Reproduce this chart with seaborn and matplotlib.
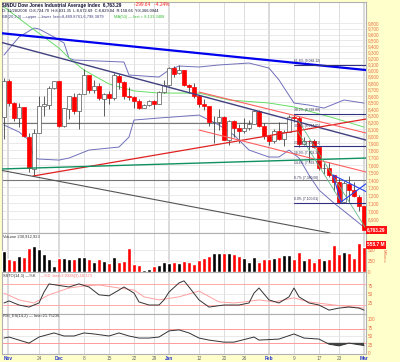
import matplotlib
matplotlib.use("Agg")
import matplotlib.pyplot as plt
import matplotlib.ticker as mticker
import numpy as np
import pandas as pd
import seaborn as sns

# ---------------- data ----------------
dates = ["11/13", "11/14", "11/17", "11/18", "11/19", "11/20", "11/21", "11/24", "11/25", "11/26", "11/28",
         "12/1", "12/2", "12/3", "12/4", "12/5", "12/8", "12/9", "12/10", "12/11", "12/12",
         "12/15", "12/16", "12/17", "12/18", "12/19", "12/22", "12/23", "12/24", "12/26",
         "12/29", "12/30", "12/31",
         "1/2", "1/5", "1/6", "1/7", "1/8", "1/9", "1/12", "1/13", "1/14", "1/15", "1/16",
         "1/20", "1/21", "1/22", "1/23", "1/26", "1/27", "1/28", "1/29", "1/30",
         "2/2", "2/3", "2/4", "2/5", "2/6", "2/9", "2/10", "2/11", "2/12", "2/13",
         "2/17", "2/18", "2/19", "2/20", "2/23", "2/24", "2/25", "2/26", "2/27", "3/2"]
opens = [8282, 8830, 8497, 8273, 8424, 7995, 7550, 8046, 8443, 8465, 8725,
         8828, 8149, 8400, 8590, 8376, 8635, 8930, 8690, 8760, 8560,
         8628, 8564, 8920, 8824, 8604, 8579, 8520, 8419, 8468,
         8515, 8483, 8668,
         8772, 9034, 8955, 9015, 8769, 8742, 8599, 8474, 8448, 8200, 8212,
         8279, 7949, 8224, 8120, 8077, 8116, 8175, 8375, 8149,
         8001, 7936, 8078, 7954, 8063, 8280, 8270, 7889, 7935, 7933,
         7850, 7553, 7556, 7465, 7366, 7115, 7350, 7270, 7180, 7056]
highs = [8876, 8870, 8500, 8490, 8430, 8040, 8100, 8600, 8600, 8750, 8830,
         8830, 8420, 8600, 8640, 8650, 9026, 8935, 8850, 8800, 8650,
         8680, 8960, 8950, 8830, 8740, 8600, 8550, 8480, 8530,
         8530, 8670, 8850,
         9065, 9080, 9088, 9015, 8790, 8800, 8620, 8560, 8450, 8290, 8400,
         8290, 8240, 8230, 8180, 8260, 8230, 8390, 8380, 8190,
         8020, 8100, 8200, 8090, 8310, 8315, 8290, 7990, 7940, 7960,
         7850, 7620, 7640, 7470, 7420, 7380, 7450, 7370, 7200, 7060]
lows = [7965, 8450, 8215, 8137, 7990, 7508, 7450, 8046, 8300, 8400, 8700,
        8140, 8140, 8250, 8320, 8100, 8635, 8650, 8650, 8530, 8300,
        8480, 8540, 8700, 8550, 8530, 8420, 8400, 8410, 8440,
        8400, 8470, 8650,
        8760, 8900, 8940, 8750, 8650, 8570, 8430, 8380, 8150, 7910, 8090,
        7940, 7880, 7990, 7910, 8050, 8090, 8175, 8130, 7960,
        7880, 7910, 7940, 7860, 8060, 8200, 7850, 7870, 7640, 7840,
        7530, 7480, 7440, 7250, 7100, 7110, 7100, 7170, 7000, 6763]
closes = [8835, 8497, 8273, 8424, 7997, 7552, 8046, 8443, 8479, 8726, 8829,
          8149, 8419, 8591, 8376, 8635, 8934, 8691, 8761, 8565, 8629,
          8564, 8924, 8824, 8604, 8579, 8519, 8419, 8468, 8515,
          8483, 8668, 8776,
          9034, 8952, 9015, 8769, 8742, 8599, 8474, 8448, 8200, 8212, 8281,
          7949, 8228, 8123, 8077, 8116, 8175, 8375, 8149, 8001,
          7936, 8078, 7957, 8063, 8280, 8270, 7889, 7939, 7933, 7850,
          7553, 7556, 7466, 7366, 7115, 7351, 7271, 7183, 7063, 6763]
close_before_first = 8282
volumes = [470, 295, 265, 356, 340, 529, 583, 506, 393, 279, 143,
           318, 302, 279, 279, 340, 340, 279, 220, 295, 256,
           204, 333, 227, 256, 545, 188, 159, 45, 68,
           143, 159, 220,
           204, 220, 204, 250, 220, 182, 265, 302, 356, 431, 431,
           416, 416, 400, 356, 311, 234, 340, 220, 295,
           279, 302, 333, 379, 379, 279, 447, 257, 318, 227,
           318, 257, 295, 597, 393, 454, 431, 318, 658, 559]

# Bollinger bands / MA(50) (day index, value)
bb_up_day = [0, 3, 6, 7, 10, 12, 13, 14, 19, 24, 25, 28, 31, 33, 35, 39, 43, 49, 53, 55, 58, 61, 64, 68, 72]
bb_up_val = [9254, 9557, 9712, 9695, 9557, 9455, 9204, 9171, 9155, 9138, 8928, 8912, 8896, 9008, 9073,
             9057, 9090, 9122, 9040, 8849, 8491, 8460, 8415, 8537, 8490]
bb_lo_day = [0, 3, 5, 6, 7, 11, 13, 17, 23, 25, 26, 31, 39, 43, 46, 49, 53, 55, 57, 59, 61, 63, 66, 69, 72]
bb_lo_val = [8163, 8062, 7946, 7694, 7680, 7666, 7694, 7805, 7847, 7989, 8236, 8266, 8310, 8163, 8017,
             7805, 7708, 7708, 7805, 7694, 7463, 7265, 7097, 6947, 6798]
ma_day = [0, 5, 11, 13, 16, 21, 26, 31, 39, 45, 53, 58, 66, 72]
ma_val = [10085, 9748, 9370, 9204, 9008, 8786, 8677, 8644, 8644, 8537, 8491, 8431, 8266, 8133]

# Slow stochastic and RSI
k_day = [0, 1, 3, 5, 7, 8, 9, 13, 15, 17, 19, 21, 23, 24, 26, 27, 29, 31, 32, 33, 35, 36, 37, 39, 41,
         44, 47, 49, 50, 51, 53, 55, 57, 58, 59, 61, 63, 65, 67, 69, 71, 72]
k_val = [25, 31, 19, 13, 25, 57, 81, 72, 81, 72, 49, 46, 63, 72, 54, 28, 19, 19, 34, 57, 84, 90, 72, 34, 13,
         19, 19, 25, 54, 69, 34, 25, 43, 69, 43, 25, 19, 4, 10, 13, 10, 4]
d_day = [0, 3, 6, 9, 13, 16, 19, 23, 26, 28, 31, 35, 39, 43, 46, 48, 51, 54, 58, 61, 66, 72]
d_val = [54, 34, 25, 49, 69, 75, 78, 69, 63, 43, 34, 43, 60, 28, 25, 28, 34, 28, 40, 28, 19, 10]
rsi_day = [0, 1, 3, 5, 7, 10, 12, 14, 16, 18, 21, 23, 25, 27, 29, 31, 33, 35, 37, 39, 41, 44, 46, 50, 51,
           55, 58, 60, 63, 65, 67, 69, 72]
rsi_val = [44, 47, 38, 29, 47, 59, 50, 50, 59, 56, 50, 59, 50, 44, 44, 47, 65, 68, 59, 44, 38, 32, 32, 47, 38,
           41, 56, 44, 41, 26, 21, 29, 22]

# Annotation lines: (start day, end day), (start price, end price)
blue_tl_day, blue_tl_px = [-0.8, 72.4], [9625, 9008]
navy_tl_day, navy_tl_px = [-0.8, 72.4], [9472, 7946]
red_rise_day, red_rise_px = [5.8, 72.4], [7450, 8251]
red_up_day, red_up_px = [39, 72.4], [8660, 8047]
red_lo_day, red_lo_px = [39, 72.4], [8090, 7504]
green_tl_day, green_tl_px = [-0.8, 72.4], [7544, 7694]
gray_tl_day, gray_tl_px = [-0.8, 65.2], [7530, 6727]
gray_h1_day, gray_h1_px = [-0.8, 57], [8190, 8190]
gray_h2_day, gray_h2_px = [-0.8, 72.4], [7400, 7400]
fan1_day, fan1_px = [58.8, 72.2], [8236, 6798]
fan2_day, fan2_px = [58.8, 67.6], [8062, 7097]
tri_a_day, tri_a_px = [65.8, 72.6], [7463, 7239]
tri_b_day, tri_b_px = [67.4, 72.6], [7111, 7357]
tri_c_day, tri_c_px = [65.8, 67.4], [7463, 7111]
fib_levels = [9088.12, 8328.88, 8094.05, 7859.21, 7708.32, 7569.72, 7380.00, 7100.01]
fib_pcts = ["61.8%", "38.2%", "30.9%", "23.6%", "18.9%", "14.6%", "8.7%", "0.0%"]
fib_drawn = [True, True, False, True, False, False, False, True]

tick_days = [0.8, 7, 11, 16, 21, 26, 30, 33, 39, 44, 48, 53, 58, 63, 67, 72]
tick_labels = ["Nov", "24", "Dec", "8", "15", "22", "29", "Jan", "12", "20", "26", "Feb", "9", "17", "23", "Mar"]
month_labels = {"Nov", "Dec", "Jan", "Feb", "Mar"}
price_ticks = list(range(6900, 9801, 100))

# ---------------- styling ----------------
sns.set_style("white")
plt.rcParams["font.family"] = ["Liberation Sans", "DejaVu Sans"]

W, H = 400, 362
BG = "#FFFFCC"
LAB = "#E8704A"
GRID = "#E2E2E2"
fig = plt.figure(figsize=(W / 100, H / 100), dpi=100, facecolor=BG)


def rect(x0, y0, x1, y1):
    return [x0 / W, 1 - y1 / H, (x1 - x0) / W, (y1 - y0) / H]


ax_p = fig.add_axes(rect(2, 2, 366, 233))
ax_v = fig.add_axes(rect(2, 233, 366, 272))
ax_s = fig.add_axes(rect(2, 272, 366, 314))
ax_r = fig.add_axes(rect(2, 314, 366, 354))
axes = [ax_p, ax_v, ax_s, ax_r]

days = np.arange(len(closes))
o = np.array(opens, float)
c = np.array(closes, float)
prev = np.r_[close_before_first, c[:-1]]
up_day = c >= prev
col = np.where(up_day, "black", "#FF0000")

# ---- price panel ----
ax_p.set_yscale("log")
for d, lab in zip(tick_days, tick_labels):
    lw = 1.3 if lab in month_labels else 0.6
    for a in axes:
        a.axvline(d, color="#D8D8D8", lw=lw, zorder=0)
for pt in price_ticks:
    ax_p.axhline(pt, color=GRID, lw=0.5, zorder=0)

ax_p.vlines(days, lows, highs, color="#333333", lw=0.55, zorder=3)
body_lo = np.minimum(o, c)
body_h = np.maximum(np.abs(c - o), 4)
fill = np.where(c > o, "white", col)
ax_p.bar(days, body_h, bottom=body_lo, width=0.62, color=fill, edgecolor=np.where(c > o, "#555555", col),
         linewidth=0.5, zorder=4)

sns.lineplot(x=bb_up_day, y=bb_up_val, ax=ax_p, color="#7070BB", lw=0.7, zorder=2)
sns.lineplot(x=bb_lo_day, y=bb_lo_val, ax=ax_p, color="#7070BB", lw=0.7, zorder=2)
sns.lineplot(x=ma_day, y=ma_val, ax=ax_p, color="#66DD66", lw=0.7, zorder=2)

ax_p.plot(blue_tl_day, blue_tl_px, color="#0000EE", lw=1.6, zorder=5)
ax_p.plot(navy_tl_day, navy_tl_px, color="#404080", lw=1.0, zorder=5)
ax_p.plot(red_rise_day, red_rise_px, color="#E02020", lw=0.9, zorder=5)
ax_p.plot(red_up_day, red_up_px, color="#FF6060", lw=0.8, zorder=5)
ax_p.plot(red_lo_day, red_lo_px, color="#FF6060", lw=0.8, zorder=5)
ax_p.plot(green_tl_day, green_tl_px, color="#109060", lw=1.0, zorder=5)
ax_p.plot(gray_tl_day, gray_tl_px, color="#555555", lw=0.8, zorder=5)
ax_p.plot(gray_h1_day, gray_h1_px, color="#777777", lw=0.8, zorder=1)
ax_p.plot(gray_h2_day, gray_h2_px, color="#777777", lw=0.8, zorder=1)
ax_p.plot(fan1_day, fan1_px, color="#66BB88", lw=0.6, zorder=5)
ax_p.plot(fan2_day, fan2_px, color="#66BB88", lw=0.6, zorder=5)
for dd, pp in [(tri_a_day, tri_a_px), (tri_b_day, tri_b_px), (tri_c_day, tri_c_px)]:
    ax_p.plot(dd, pp, color="#2244EE", lw=0.8, zorder=5)
for lvl, pct, drawn in zip(fib_levels, fib_pcts, fib_drawn):
    if drawn:
        ax_p.plot([58, 72.4], [lvl, lvl], color="#303080", lw=0.8, zorder=5)
    ax_p.text(58, lvl * 1.003, f"{pct} ({lvl:,.2f})", fontsize=2.4, color="#333355", va="bottom", ha="left", zorder=6)

ax_p.set_ylim(6727, 10176)
ax_p.yaxis.set_minor_locator(mticker.NullLocator())
ax_p.set_yticks(price_ticks)
ax_p.set_yticklabels([f"{p:,}" for p in price_ticks])

# ---- volume panel ----
vdf = pd.DataFrame({"day": days, "vol": volumes, "dir": np.where(up_day, "up", "down")})
sns.barplot(data=vdf, x="day", y="vol", hue="dir", palette={"up": "black", "down": "#FF0000"},
            native_scale=True, dodge=False, errorbar=None, width=0.84, legend=False, saturation=1,
            ax=ax_v, zorder=3)
for v in [250, 500]:
    ax_v.axhline(v, color=GRID, lw=0.5, zorder=0)
ax_v.set_ylim(0, 870)
ax_v.set_yticks([0, 250, 500])
ax_v.set_yticklabels(["0", "250", "500"])

# ---- stochastic panel ----
for lv in [80, 20]:
    ax_s.axhline(lv, color="#FFAAAA", lw=0.7, zorder=1)
ax_s.axhline(50, color=GRID, lw=0.5, zorder=0)
sns.lineplot(x=d_day, y=d_val, ax=ax_s, color="#FFA0A0", lw=0.7, zorder=2)
sns.lineplot(x=k_day, y=k_val, ax=ax_s, color="#333333", lw=0.7, zorder=3)
ax_s.set_ylim(-7.4, 116)
ax_s.set_yticks([25, 50, 75])
ax_s.set_yticklabels(["25", "50", "75"])

# ---- RSI panel ----
for lv in [70, 30]:
    ax_r.axhline(lv, color="#FF9999", lw=0.7, zorder=1)
ax_r.axhline(50, color=GRID, lw=0.5, zorder=0)
rd = np.array(rsi_day, float)
rv = np.array(rsi_val, float)
ax_r.fill_between(rd, rv, 30, where=rv < 30, interpolate=True, color="#444444", lw=0, zorder=2)
sns.lineplot(x=rsi_day, y=rsi_val, ax=ax_r, color="#333333", lw=0.7, zorder=3)
ax_r.set_ylim(-2.9, 114.7)
ax_r.set_yticks([0, 25, 50, 75, 100])
ax_r.set_yticklabels(["0", "25", "50", "75", "100"])

# ---- common axis styling ----
for a in axes:
    a.set_facecolor("white")
    a.set_xlim(-0.4, 72.4)
    a.set_xlabel("")
    a.set_ylabel("")
    a.yaxis.tick_right()
    a.tick_params(axis="y", length=0, pad=1.5, labelsize=3.3, labelcolor=LAB)
    a.set_xticks(tick_days)
    a.tick_params(axis="x", length=0)
    for s in a.spines.values():
        s.set_color("#B0B0B0")
        s.set_linewidth(0.8)
    if a is not ax_r:
        a.set_xticklabels([])
ax_r.set_xticklabels(tick_labels)
ax_r.tick_params(axis="x", pad=1.2, labelsize=3.4)
for t in ax_r.get_xticklabels():
    if t.get_text() in month_labels:
        t.set_color("#2233CC")
        t.set_fontweight("bold")
    else:
        t.set_color("#666666")


def ftxt(x, y, s, **kw):
    fig.text(x / W, 1 - y / H, s, va="center", ha="left", **kw)


# header
ftxt(2, 5, "$INDU Dow Jones Industrial Average Index  6,763.29", fontsize=3.4, weight="bold", color="#101030")
ftxt(134, 5, "-299.64   -4.24%", fontsize=3.4, color="#FF2020")
ftxt(2, 11, "D: 11/28/2008  O:8,724.70  H:8,831.35  L:8,672.69  C:8,829.04  R:158.66  Y:8,366.0944",
     fontsize=2.9, color="#101030")
ftxt(2, 17, "BB(20,2.0) \u2014upper \u2014lower  last=8,489.8761,6,798.3879", fontsize=2.9, color="#404080")
ftxt(114, 17, "MA(50) \u2014 last = 8,133.3408", fontsize=2.9, color="#33BB33")
ftxt(3, 236.5, "Volume 230,912,923", fontsize=2.9, color="#333333")
ftxt(3, 276, "SSTO(14,3) \u2014%K", fontsize=2.9, color="#333333")
ftxt(40, 276, "\u2014%D  last=3.9328(3),10.373", fontsize=2.9, color="#FF7070")
ftxt(3, 316, "RSI_ES(14,2) \u2014 last=21.75236", fontsize=2.9, color="#333333")

# right-side highlight boxes
fig.text(367 / W, 1 - 230 / H, "6,763.29", fontsize=3.4, color="white", weight="bold", va="center", ha="left",
         bbox=dict(boxstyle="square,pad=0.25", fc="#FF1010", ec="none"))
fig.text(367 / W, 1 - 245 / H, "558.7 M", fontsize=3.4, color="white", weight="bold", va="center", ha="left",
         bbox=dict(boxstyle="square,pad=0.25", fc="#FF1010", ec="none"))
fig.text(384 / W, 1 - 256 / H, "Millions", fontsize=3.0, color=LAB, rotation=270, va="center", ha="center")

fig.savefig("out.png", dpi=100, facecolor=BG)
